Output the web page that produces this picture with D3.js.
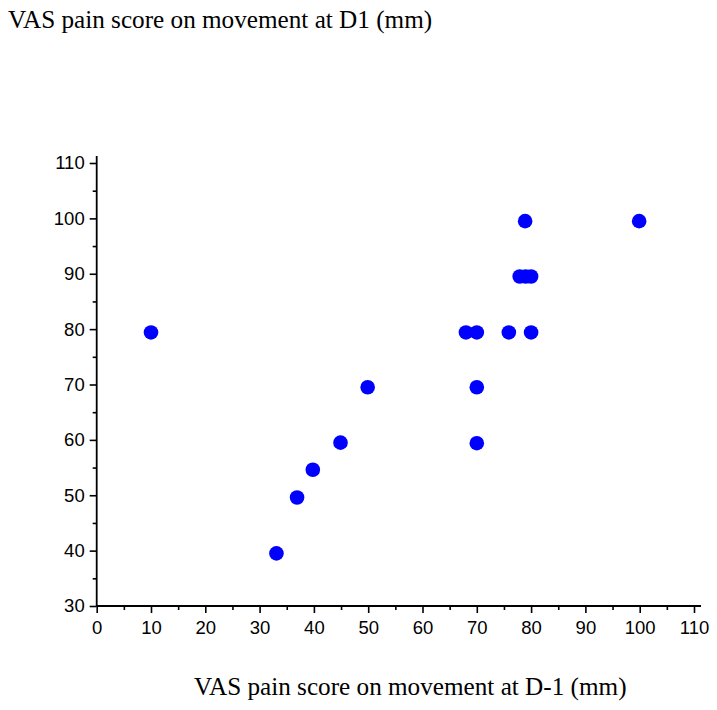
<!DOCTYPE html>
<html><head><meta charset="utf-8">
<script src="https://cdn.jsdelivr.net/npm/d3@7"></script>
<style>body{margin:0;background:#fff}</style>
</head><body>
<svg id="c" width="717" height="710"></svg>
<script>
const xVals = [10, 33.1, 36.9, 39.8, 44.9, 49.9, 68.0, 70.0, 70.0, 70.0, 75.9, 80.0, 77.9, 79.0, 80.0, 78.9, 99.9];
const yVals = [79.4, 39.5, 49.6, 54.6, 59.5, 69.5, 79.4, 79.4, 69.5, 59.4, 79.4, 79.4, 89.5, 89.5, 89.5, 99.5, 99.5];
const xTicks = [0,10,20,30,40,50,60,70,80,90,100,110];
const yTicks = [30,40,50,60,70,80,90,100,110];
const xTitle = "VAS pain score on movement at D-1 (mm)";
const yTitle = "VAS pain score on movement at D1 (mm)";

const svg = d3.select("#c");
const x = d3.scaleLinear().domain([0,110]).range([96.7,694]);
const y = d3.scaleLinear().domain([30,110]).range([606,163]);

const g = svg.append("g");
g.append("line").attr("x1",x(0)).attr("x2",x(110)+7).attr("y1",y(30)).attr("y2",y(30)).attr("stroke","#000").attr("stroke-width",1.8);
g.append("line").attr("x1",x(0)).attr("x2",x(0)).attr("y1",y(30)).attr("y2",y(110)-7).attr("stroke","#000").attr("stroke-width",1.8);

const xAxis = d3.axisBottom(x).tickValues(xTicks).tickSize(7).tickPadding(8).tickFormat(d3.format("d"));
svg.append("g").attr("transform",`translate(0,${y(30)})`).call(xAxis);
const xMinor = d3.axisBottom(x).tickValues(d3.range(5,110,10)).tickSize(4).tickFormat("");
svg.append("g").attr("transform",`translate(0,${y(30)})`).call(xMinor);

const yAxis = d3.axisLeft(y).tickValues(yTicks).tickSize(7).tickPadding(5).tickFormat(d3.format("d"));
svg.append("g").attr("transform",`translate(${x(0)},0)`).call(yAxis);
const yMinor = d3.axisLeft(y).tickValues(d3.range(35,110,10)).tickSize(4).tickFormat("");
svg.append("g").attr("transform",`translate(${x(0)},0)`).call(yMinor);

svg.selectAll(".domain").remove();
svg.selectAll(".tick line").attr("stroke","#000").attr("stroke-width",1.6);
svg.selectAll(".tick text").attr("font-family","Liberation Sans, Arial, sans-serif").attr("font-size",18.5).attr("fill","#000");

svg.append("g").selectAll("circle").data(xVals).join("circle")
  .attr("cx",(d)=>x(d)).attr("cy",(d,i)=>y(yVals[i])).attr("r",7.3).attr("fill","#0000ff");

svg.append("text").attr("x",8).attr("y",28).attr("font-family","Liberation Serif, Times New Roman, serif").attr("font-size",25.2).attr("fill","#000").text(yTitle);
svg.append("text").attr("x",194).attr("y",695).attr("font-family","Liberation Serif, Times New Roman, serif").attr("font-size",25.2).attr("fill","#000").text(xTitle);
</script>
</body></html>
